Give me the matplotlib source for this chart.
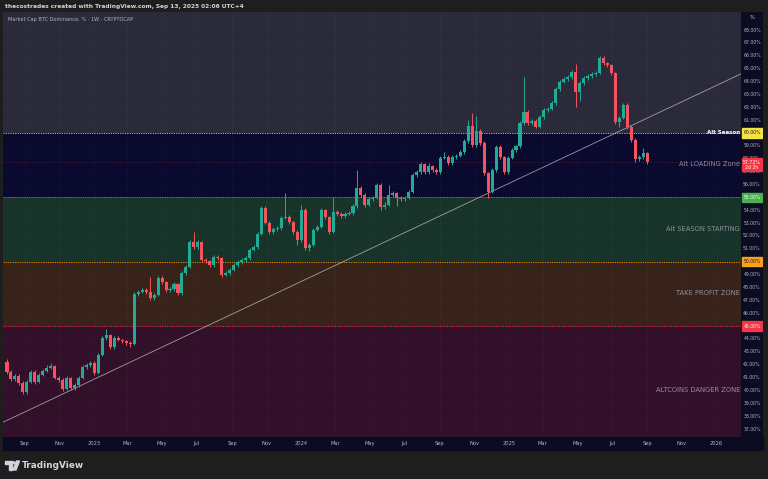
import matplotlib
matplotlib.use("Agg")
import matplotlib.pyplot as plt
import matplotlib.dates as mdates
from matplotlib.patches import Rectangle, Polygon, Circle
import numpy as np
import pandas as pd

# weekly BTC dominance candles
first_week = "2022-08-01"
first_open = 42.21
closes = [41.43, 40.89, 41.12, 40.57, 39.88, 40.65, 41.43, 40.65, 41.20, 41.51,
          41.74, 41.90, 40.96, 40.81, 40.11, 40.96, 40.19, 40.42, 40.96, 41.82,
          41.97, 42.13, 41.35, 42.75, 44.07, 44.30, 43.37, 44.07, 43.92, 43.84,
          43.68, 43.61, 47.49, 47.65, 47.80, 47.65, 47.18, 47.41, 48.73, 48.42,
          47.80, 47.88, 48.27, 47.57, 49.12, 49.59, 51.53, 51.14, 51.53, 50.13,
          50.05, 49.74, 50.37, 50.29, 48.97, 49.12, 49.36, 49.74, 49.98, 50.13,
          50.29, 50.91, 51.14, 52.15, 54.17, 53.01, 52.31, 52.54, 52.62, 53.40,
          53.47, 53.08, 52.31, 51.69, 54.02, 51.06, 51.30, 52.46, 52.70, 54.02,
          53.47, 52.31, 53.86, 53.71, 53.55, 53.71, 53.78, 54.33, 55.73, 55.18,
          54.41, 54.87, 54.95, 55.96, 54.25, 54.41, 55.18, 55.34, 54.95, 54.90,
          54.98, 55.41, 56.74, 56.97, 57.59, 56.97, 57.44, 57.12, 56.97, 58.06,
          58.14, 57.67, 58.14, 58.20, 58.52, 59.38, 60.54, 59.07, 60.16, 59.22,
          56.89, 55.41, 57.12, 58.91, 58.14, 56.97, 58.06, 58.68, 58.99, 60.78,
          61.63, 60.78, 60.93, 60.47, 61.24, 61.79, 61.86, 62.33, 63.42, 63.96,
          64.20, 64.35, 64.74, 63.19, 63.89, 64.27, 64.43, 64.58, 64.66, 65.83,
          65.44, 65.28, 64.66, 60.85, 61.17, 62.18, 60.47, 59.46, 57.98, 58.14,
          58.45, 57.72]
highs = [42.45, 41.60, 41.30, 41.25, 40.70, 40.80, 41.60, 41.55, 41.35, 41.65,
         41.95, 42.15, 42.00, 41.10, 40.95, 41.10, 41.05, 40.60, 41.10, 41.95,
         42.10, 42.30, 42.25, 42.90, 44.25, 44.75, 44.40, 44.20, 44.20, 44.00,
         43.95, 43.80, 47.65, 47.80, 47.95, 47.95, 48.80, 47.55, 48.90, 48.85,
         48.50, 48.05, 48.40, 48.35, 49.25, 49.75, 51.70, 52.30, 51.70, 51.60,
         50.30, 50.15, 50.50, 50.50, 50.40, 49.30, 49.50, 49.90, 50.10, 50.30,
         50.45, 51.05, 51.30, 52.30, 54.30, 54.30, 53.15, 52.70, 52.80, 53.55,
         55.35, 53.60, 53.20, 52.45, 54.40, 54.15, 51.45, 52.60, 52.85, 54.15,
         54.10, 53.55, 55.05, 54.00, 53.85, 53.85, 53.95, 54.50, 57.10, 55.85,
         55.30, 55.00, 55.10, 56.10, 56.10, 54.60, 55.95, 55.50, 55.45, 55.10,
         55.10, 55.55, 56.90, 57.10, 57.75, 57.70, 57.70, 57.55, 57.25, 58.20,
         58.50, 58.30, 58.30, 58.35, 58.70, 59.50, 61.00, 61.55, 61.30, 60.30,
         59.35, 57.00, 57.25, 59.05, 59.05, 58.25, 58.20, 58.80, 59.10, 60.95,
         64.35, 61.75, 61.10, 61.05, 61.40, 61.95, 62.00, 62.50, 63.55, 64.10,
         64.35, 64.50, 64.90, 65.35, 64.05, 64.40, 64.60, 64.75, 64.80, 66.00,
         65.95, 65.55, 65.35, 64.75, 61.35, 62.35, 62.30, 60.60, 59.60, 58.30,
         58.80, 58.55]
lows = [41.30, 40.75, 40.70, 40.45, 39.70, 39.75, 40.55, 40.50, 40.55, 41.10,
        41.40, 41.65, 40.85, 40.65, 39.95, 40.00, 40.05, 40.05, 40.30, 40.85,
        41.70, 41.85, 41.20, 41.25, 42.65, 43.95, 43.20, 43.25, 43.80, 43.70,
        43.50, 43.40, 43.50, 47.35, 47.55, 47.50, 47.05, 47.00, 47.30, 48.30,
        47.65, 47.65, 47.75, 47.45, 47.45, 49.00, 49.50, 51.00, 51.00, 49.95,
        49.90, 49.60, 49.60, 50.15, 48.80, 48.85, 49.00, 49.25, 49.60, 49.85,
        50.00, 50.15, 50.80, 51.00, 52.05, 52.90, 52.15, 52.15, 52.40, 52.50,
        53.30, 52.95, 52.15, 51.30, 51.55, 50.90, 50.85, 51.20, 52.35, 52.60,
        53.30, 52.15, 52.20, 53.55, 53.40, 53.40, 53.60, 53.65, 54.20, 55.05,
        54.25, 54.30, 54.75, 54.85, 54.05, 54.10, 54.30, 55.05, 54.30, 54.75,
        54.70, 54.85, 55.30, 56.60, 56.85, 56.85, 56.80, 56.95, 56.80, 56.85,
        57.95, 57.55, 57.55, 58.00, 58.10, 58.40, 59.25, 58.95, 58.95, 59.05,
        56.70, 54.95, 55.30, 57.00, 58.00, 56.85, 56.85, 57.95, 58.55, 58.85,
        60.65, 60.60, 60.65, 60.35, 60.35, 61.10, 61.65, 61.75, 62.20, 63.30,
        63.85, 64.05, 64.20, 62.05, 62.50, 63.75, 64.15, 64.30, 64.45, 64.55,
        65.30, 65.15, 64.50, 60.70, 60.50, 61.05, 60.30, 59.30, 57.75, 57.80,
        58.00, 57.60]

tick_dates = ["2022-09-01", "2022-11-01", "2023-01-01", "2023-03-01", "2023-05-01",
              "2023-07-01", "2023-09-01", "2023-11-01", "2024-01-01", "2024-03-01",
              "2024-05-01", "2024-07-01", "2024-09-01", "2024-11-01", "2025-01-01",
              "2025-03-01", "2025-05-01", "2025-07-01", "2025-09-01", "2025-11-01",
              "2026-01-01"]
tick_labels = ["Sep", "Nov", "2023", "Mar", "May", "Jul", "Sep", "Nov", "2024", "Mar",
               "May", "Jul", "Sep", "Nov", "2025", "Mar", "May", "Jul", "Sep", "Nov",
               "2026"]

# zones (bottom, top) and their fills
zone_bottoms = [30, 45, 50, 55, 60]
zone_tops = [45, 50, 55, 60, 75]
zone_colors = ["#33102a", "#38231a", "#18342a", "#0a0a2e", "#2a2a3a"]
zone_names = ["ALTCOINS DANGER ZONE", "TAKE PROFIT ZONE", "Alt SEASON STARTING", "Alt LOADING Zone"]
zone_label_y = [40.0, 47.55, 52.55, 57.6]

levels = [60, 55, 50, 45]
level_line_colors = ["#d0d0d0", "#4caf50", "#ff9800", "#f23645"]
level_badge_colors = ["#f5e33f", "#4caf50", "#f7a21b", "#f23645"]
level_text_colors = ["#131722", "#ffffff", "#131722", "#ffffff"]

trend_dates = ["2022-08-10", "2025-11-15"]
trend_values = [37.86, 62.72]

last_price = 57.72
countdown = "2d 2h"

up_col = "#22ab94"
down_col = "#f7525f"

weeks = pd.date_range(first_week, periods=len(closes), freq="7D")
x = mdates.date2num(weeks)
c = np.array(closes)
o = np.concatenate([[first_open], c[:-1]])
hi = np.array(highs)
lo = np.array(lows)
cols = [up_col if cc >= oo else down_col for oo, cc in zip(o, c)]

W, H = 768, 479
fig = plt.figure(figsize=(W / 100, H / 100), dpi=100)
fig.patch.set_facecolor("#1e1e1e")

ax = fig.add_axes([3 / W, (H - 437) / H, (741 - 3) / W, (437 - 12) / H])
ax.set_ylim(36.38, 69.40)
ax.set_xlim(mdates.datestr2num("2022-07-25"), mdates.datestr2num("2026-02-13"))
for sp in ax.spines.values():
    sp.set_visible(False)

for b, t, col in zip(zone_bottoms, zone_tops, zone_colors):
    ax.axhspan(b, t, color=col, zorder=0, lw=0)

# faint grid
for d in tick_dates:
    ax.axvline(mdates.datestr2num(d), color="#ffffff", alpha=0.025, lw=0.6, zorder=1)
for v in range(37, 70):
    ax.axhline(v, color="#ffffff", alpha=0.018, lw=0.6, zorder=1)

for v, col in zip(levels, level_line_colors):
    ax.axhline(v, color=col, lw=0.7, ls=(0, (1.2, 1.2)), alpha=0.85, zorder=2)
ax.axhline(last_price, color=down_col, lw=0.5, ls=(0, (1, 2)), alpha=0.45, zorder=2)

# trend line
ax.axline((mdates.datestr2num(trend_dates[0]), trend_values[0]),
          (mdates.datestr2num(trend_dates[1]), trend_values[1]),
          color="#c8c8c8", lw=0.6, alpha=0.75, zorder=3)

# candles
ax.vlines(x, lo, hi, colors=cols, lw=0.7, zorder=4)
ax.bar(x, np.maximum(np.abs(c - o), 0.08), bottom=np.minimum(o, c), width=5.4,
       color=cols, lw=0, zorder=5)

# zone labels
xr = ax.get_xlim()[1] - 1.5
for name, yv in zip(zone_names, zone_label_y):
    ax.text(xr, yv, name, ha="right", va="center", fontsize=4.9, color="#8c8f9c", zorder=6)
ax.text(xr, 60, "Alt Season", ha="right", va="center", fontsize=4.0,
        color="#ffffff", fontweight="bold", zorder=6)

ax.set_yticks([])
ax.set_xticks([mdates.datestr2num(d) for d in tick_dates])
ax.set_xticklabels(tick_labels)
ax.tick_params(axis="x", length=0, pad=3.2, labelsize=3.7, colors="#b2b5be")

# bottom time-axis strip
fig.patches.append(Rectangle((3 / W, (H - 450) / H), 760 / W, 13 / H,
                             transform=fig.transFigure, color="#0b0b22", zorder=-1))

# price axis column
axp = fig.add_axes([741 / W, (H - 437) / H, 22 / W, (437 - 12) / H])
axp.set_facecolor("#0b0b22")
axp.set_ylim(ax.get_ylim())
axp.set_xlim(0, 1)
axp.set_xticks([])
axp.set_yticks([])
for sp in axp.spines.values():
    sp.set_visible(False)
for v in range(37, 69):
    axp.text(0.5, v, f"{v:.2f}%", ha="center", va="center", fontsize=3.3, color="#b2b5be")
axp.text(0.5, 68.95, "%", ha="center", va="center", fontsize=3.6, color="#d1d4dc")
for v, bc, tc in zip(levels, level_badge_colors, level_text_colors):
    axp.add_patch(Rectangle((0.03, v - 0.36), 0.94, 0.72, color=bc, zorder=3))
    axp.text(0.5, v, f"{v:.2f}%", ha="center", va="center", fontsize=3.3, color=tc, zorder=4)
axp.add_patch(Rectangle((0.03, last_price - 0.68), 0.94, 1.05, color="#f23645", zorder=5))
axp.text(0.5, last_price - 0.03, f"{last_price:.2f}%", ha="center", va="center",
         fontsize=3.3, color="#ffffff", zorder=6)
axp.text(0.5, last_price - 0.42, countdown, ha="center", va="center",
         fontsize=3.3, color="#ffffff", zorder=6)

# header texts
fig.text(5 / W, 1 - 6.5 / H, "thecostrades created with TradingView.com, Sep 13, 2025 02:06 UTC+4",
         ha="left", va="center", fontsize=4.2, color="#d1d4dc", fontweight="bold")
fig.text(8 / W, 1 - 19 / H, "Market Cap BTC Dominance, % · 1W · CRYPTOCAP",
         ha="left", va="center", fontsize=3.6, color="#b2b5be")

# TradingView logo
fig.patches.append(Polygon([(5 / W, 1 - 461 / H), (11.5 / W, 1 - 461 / H), (11.5 / W, 1 - 470 / H),
                            (8.5 / W, 1 - 470 / H), (8.5 / W, 1 - 464 / H), (5 / W, 1 - 464 / H)],
                           closed=True, transform=fig.transFigure, color="#d1d4dc"))
fig.patches.append(Circle((13.3 / W, 1 - 462.7 / H), 1.5 / W, transform=fig.transFigure, color="#d1d4dc"))
fig.patches.append(Polygon([(16.5 / W, 1 - 461 / H), (19.5 / W, 1 - 461 / H), (16 / W, 1 - 470 / H),
                            (13 / W, 1 - 470 / H)], closed=True, transform=fig.transFigure,
                           color="#d1d4dc"))
fig.text(22 / W, 1 - 465.5 / H, "TradingView", ha="left", va="center", fontsize=6.4,
         color="#d1d4dc", fontweight="bold")

fig.savefig("out.png", dpi=100, facecolor=fig.get_facecolor())
